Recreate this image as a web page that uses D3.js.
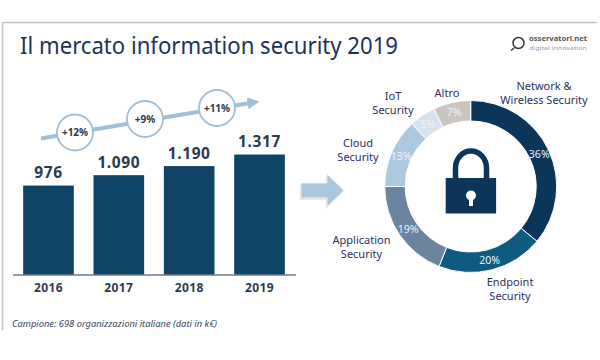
<!DOCTYPE html>
<html>
<head>
<meta charset="utf-8">
<script src="https://cdnjs.cloudflare.com/ajax/libs/d3/7.8.5/d3.min.js"></script>
<style>
  html, body { margin: 0; background: #fff; }
  text { font-family: "Noto Sans", sans-serif; }
</style>
</head>
<body>
<div id="chart"></div>
<script>
const years = ['2016', '2017', '2018', '2019']
const market = [976, 1090, 1190, 1317]
const marketLabels = ['976', '1.090', '1.190', '1.317']
const growth = ['+12%', '+9%', '+11%']

const segments = ['Network & Wireless Security', 'Endpoint Security', 'Application Security', 'Cloud Security', 'IoT Security', 'Altro']
const shares = [36, 20, 19, 13, 5, 7]
const segmentColors = ['#0b3659', '#0f5a80', '#6b84a0', '#adc9df', '#d7e4ef', '#c9c5c0']
const segmentLines = [['Network &', 'Wireless Security'], ['Endpoint', 'Security'], ['Application', 'Security'], ['Cloud', 'Security'], ['IoT', 'Security'], ['Altro']]
const segmentLabelPos = [[544, 90], [510, 286], [361.5, 244], [358, 147], [393, 100], [447, 97]]

const SVG = d3.select('#chart').append('svg')
  .attr('width', 600)
  .attr('height', 360)
  .style('display', 'block')

const NAVY = '#1b3358'
const INK = '#28325c'

// slide frame, only top and left edges show
SVG.append('path')
  .attr('d', 'M2.5 330V22.5H597')
  .attr('fill', 'none')
  .attr('stroke', '#c4c4c4')
  .attr('stroke-width', 1.6)

SVG.append('text')
  .attr('x', 20)
  .attr('y', 54)
  .attr('font-size', 24)
  .attr('fill', NAVY)
  .attr('textLength', 378)
  .attr('lengthAdjust', 'spacingAndGlyphs')
  .text('Il mercato information security 2019')

/* logo */
const logo = SVG.append('g')
logo.append('circle')
  .attr('cx', 518.5).attr('cy', 43).attr('r', 5.5)
  .attr('fill', 'none').attr('stroke', '#33363b').attr('stroke-width', 1.5)
logo.append('path')
  .attr('d', 'M514 48L511 50.5')
  .attr('stroke', '#33363b').attr('stroke-width', 1.5)
logo.append('text')
  .attr('x', 529).attr('y', 41)
  .attr('font-size', 7.2).attr('font-weight', 'bold').attr('fill', '#55585c')
  .attr('textLength', 58)
  .attr('lengthAdjust', 'spacingAndGlyphs')
  .text('osservatori.net')
logo.append('text')
  .attr('x', 529).attr('y', 49.8)
  .attr('font-size', 6).attr('fill', '#9a9da1')
  .attr('textLength', 58)
  .attr('lengthAdjust', 'spacingAndGlyphs')
  .text('digital innovation')

/* bars */
const x = d3.scaleBand()
  .domain(years)
  .range([12.6, 295.4])
  .paddingInner(0.28)
  .paddingOuter(0.15)

const y = d3.scaleLinear()
  .domain([0, 1317])
  .range([274.5, 154.5])

SVG.append('g')
  .selectAll('rect')
  .data(market)
  .join('rect')
  .attr('x', (d, i) => x(years[i]))
  .attr('y', d => y(d))
  .attr('width', x.bandwidth())
  .attr('height', d => y(0) - y(d))
  .attr('fill', '#0f4467')

SVG.append('g')
  .selectAll('text')
  .data(market)
  .join('text')
  .attr('x', (d, i) => x(years[i]) + x.bandwidth() / 2)
  .attr('y', d => y(d) - 7.5)
  .attr('text-anchor', 'middle')
  .attr('font-size', 15.5)
  .attr('font-weight', 'bold')
  .attr('letter-spacing', 0.6)
  .attr('fill', '#2a3a52')
  .text((d, i) => marketLabels[i])

const xAxis = SVG.append('g')
  .attr('transform', `translate(0, ${y(0)})`)
  .call(d3.axisBottom(x).tickSize(0).tickPadding(9))
xAxis.select('.domain').attr('stroke', '#2a3a52').attr('stroke-width', 1.2)
xAxis.selectAll('text')
  .attr('font-family', '"Noto Sans", sans-serif')
  .attr('font-size', 12)
  .attr('font-weight', 'bold')
  .attr('letter-spacing', 0.4)
  .attr('fill', '#2a3a52')

/* growth arrow with the three circles on it */
SVG.append('defs').append('marker')
  .attr('id', 'head')
  .attr('viewBox', '0 0 10 10')
  .attr('refX', 2).attr('refY', 5)
  .attr('markerWidth', 3).attr('markerHeight', 3)
  .attr('orient', 'auto')
  .append('path')
  .attr('d', 'M0 0L10 5L0 10Z')
  .attr('fill', '#a3bfd6')

SVG.append('line')
  .attr('x1', 41).attr('y1', 138.5)
  .attr('x2', 250).attr('y2', 103)
  .attr('stroke', '#a3bfd6')
  .attr('stroke-width', 4)
  .attr('marker-end', 'url(#head)')

const circlePos = [[75, 132.5], [145, 119], [217, 108]]
const bubbles = SVG.append('g')
  .selectAll('g')
  .data(growth)
  .join('g')
  .attr('transform', (d, i) => `translate(${circlePos[i]})`)
bubbles.append('circle')
  .attr('r', 18)
  .attr('fill', '#fff')
  .attr('stroke', '#a3bfd6')
  .attr('stroke-width', 1.8)
bubbles.append('text')
  .attr('text-anchor', 'middle')
  .attr('dy', '0.35em')
  .attr('font-size', 10)
  .attr('font-weight', 'bold')
  .attr('fill', '#2a3a52')
  .text(d => d)

SVG.append('text')
  .attr('x', 12)
  .attr('y', 326.5)
  .attr('font-size', 8.5)
  .attr('font-style', 'italic')
  .attr('fill', '#3a4660')
  .attr('textLength', 205)
  .attr('lengthAdjust', 'spacingAndGlyphs')
  .text('Campione: 698 organizzazioni italiane (dati in k€)')

/* big arrow between the two parts, soft shadow underneath */
const bigArrow = 'M301 183H327V174L344 190.5L327 207V198H301Z'
SVG.append('path')
  .attr('d', bigArrow)
  .attr('transform', 'translate(-1, 1.5)')
  .attr('fill', '#d5d5d5')
SVG.append('path')
  .attr('d', bigArrow)
  .attr('fill', '#a9c7de')
  .attr('stroke', '#f2f2f2')
  .attr('stroke-width', 1)

/* donut */
const pie = d3.pie().sort(null)
const arc = d3.arc().innerRadius(65.5).outerRadius(86)
const donut = SVG.append('g').attr('transform', 'translate(470.7, 186.5)')

const slices = pie(shares)

donut.selectAll('path')
  .data(slices)
  .join('path')
  .attr('d', arc)
  .attr('fill', (d, i) => segmentColors[i])
  .attr('stroke', '#fff')
  .attr('stroke-width', 1)

donut.selectAll('text')
  .data(slices)
  .join('text')
  .attr('transform', d => `translate(${arc.centroid(d)})`)
  .attr('text-anchor', 'middle')
  .attr('dy', '0.35em')
  .attr('font-size', 10.5)
  .attr('fill', '#eef2f5')
  .text(d => d.value + '%')

const labels = SVG.append('g')
  .selectAll('text')
  .data(segments)
  .join('text')
  .attr('x', (d, i) => segmentLabelPos[i][0])
  .attr('y', (d, i) => segmentLabelPos[i][1])
  .attr('text-anchor', 'middle')
  .attr('font-size', 11)
  .attr('fill', INK)
labels.selectAll('tspan')
  .data((d, i) => segmentLines[i])
  .join('tspan')
  .attr('x', function () { return this.parentNode.getAttribute('x') })
  .attr('dy', (d, i) => i ? 14 : 0)
  .text(d => d)

/* padlock */
const lock = SVG.append('g')
lock.append('path')
  .attr('d', 'M455.5 180V168A15.5 17 0 0 1 486.5 168V180')
  .attr('fill', 'none')
  .attr('stroke', '#0b3659')
  .attr('stroke-width', 5.5)
lock.append('rect')
  .attr('x', 445.7).attr('y', 178)
  .attr('width', 50.4).attr('height', 35.5)
  .attr('fill', '#0b3659')
lock.append('circle')
  .attr('cx', 471).attr('cy', 195.5).attr('r', 5)
  .attr('fill', '#fff')
lock.append('path')
  .attr('d', 'M469 197H473V206H469Z')
  .attr('fill', '#fff')
</script>
</body>
</html>
